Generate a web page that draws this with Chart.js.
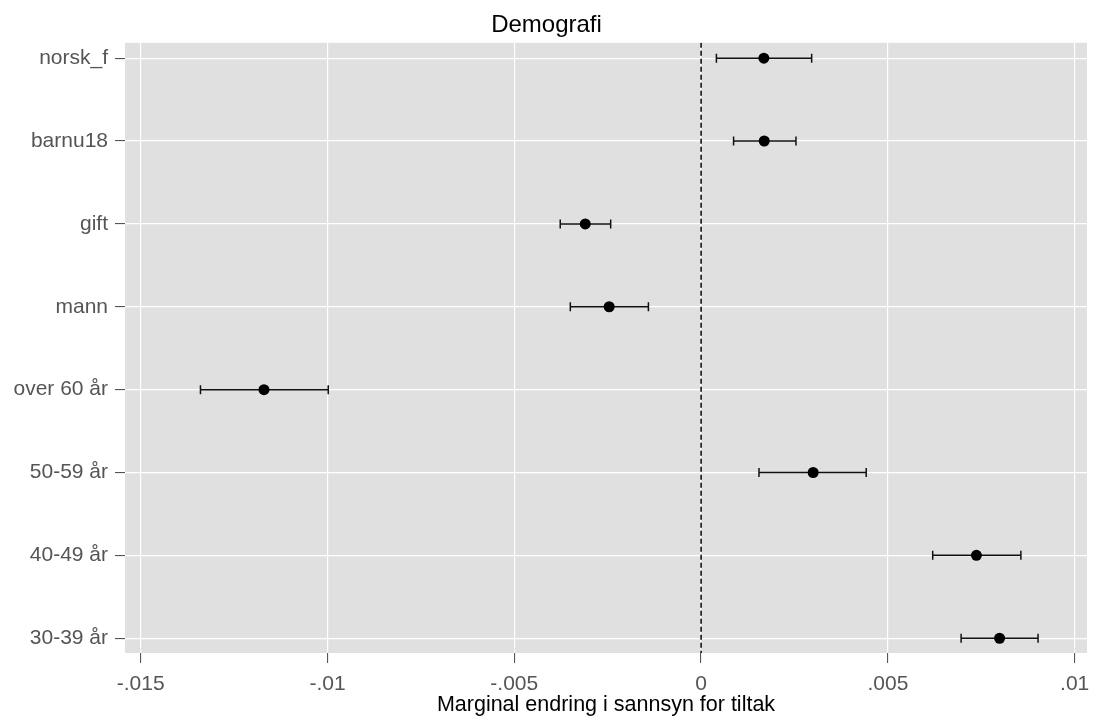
<!DOCTYPE html>
<html>
<head>
<meta charset="utf-8">
<script src="https://cdn.jsdelivr.net/npm/chart.js@4/dist/chart.umd.min.js"></script>
<style>
  html, body { margin: 0; padding: 0; background: #fff; }
  #wrap { width: 1093px; height: 718px; }
</style>
</head>
<body>
<div id="wrap"><canvas id="demoChart" width="1093" height="718"></canvas></div>
<script>
// ── Data ──────────────────────────────────────────────────
const categories  = ['norsk_f', 'barnu18', 'gift', 'mann', 'over 60 år', '50-59 år', '40-49 år', '30-39 år'];
const estimates   = [0.00168, 0.00169, -0.00310, -0.00246, -0.01170, 0.00300, 0.00737, 0.00799];
const lowerCI     = [0.00041, 0.00087, -0.00377, -0.00350, -0.01340, 0.00155, 0.00620, 0.00696];
const upperCI     = [0.00296, 0.00254, -0.00242, -0.00141, -0.00998, 0.00442, 0.00856, 0.00902];
const xTicks      = [-0.015, -0.01, -0.005, 0, 0.005, 0.01];
const xTickLabels = ['-.015', '-.01', '-.005', '0', '.005', '.01'];

const FONT  = "'Liberation Sans', Arial, sans-serif";
const PANEL = '#E0E0E0';

// grey panel behind the grid
const panelBg = {
  id: 'panelBg',
  beforeDraw(chart) {
    const a = chart.chartArea, c = chart.ctx;
    c.save();
    c.fillStyle = PANEL;
    c.fillRect(a.left, a.top, a.right - a.left, a.bottom - a.top);
    c.restore();
  }
};

// ── Datasets ───────────────────────────────────────────────
const pointSet = {
  data: estimates.map((v, i) => ({ x: v, y: i })),
  pointRadius: 5.5,
  pointBackgroundColor: '#000',
  pointBorderColor: '#000',
  pointBorderWidth: 0,
  showLine: false
};

const barSets = categories.map((_, i) => ({
  data: [{ x: lowerCI[i], y: i }, { x: upperCI[i], y: i }],
  showLine: true,
  borderColor: '#111',
  borderWidth: 1.5,
  pointStyle: 'line',
  rotation: 90,
  pointRadius: 4.5,
  pointBorderColor: '#111',
  pointBorderWidth: 1.5
}));

const zeroLine = {
  data: [{ x: 0, y: -0.185 }, { x: 0, y: 7.178 }],
  showLine: true,
  borderColor: '#000',
  borderWidth: 1.5,
  borderDash: [5, 3],
  pointRadius: 0
};

const ctx = document.getElementById('demoChart').getContext('2d');
new Chart(ctx, {
  type: 'scatter',
  data: { datasets: [pointSet, ...barSets, zeroLine] },
  plugins: [panelBg],
  options: {
    responsive: false,
    animation: false,
    devicePixelRatio: 1,
    layout: { padding: 0 },
    plugins: {
      legend: { display: false },
      tooltip: { enabled: false },
      title: {
        display: true,
        text: 'Demografi',
        color: '#000',
        font: { family: FONT, size: 24, weight: 'normal' },
        padding: { top: 11, bottom: 3 }
      }
    },
    scales: {
      x: {
        type: 'linear',
        min: -0.01542,
        max: 0.01033,
        afterBuildTicks: s => { s.ticks = xTicks.map(v => ({ value: v })); },
        afterFit: s => { s.height = 65; s.paddingLeft = 0; s.paddingRight = 0; },
        border: { display: false },
        grid: { color: '#fff', lineWidth: 1.2, tickColor: '#444', tickLength: 10, tickWidth: 1 },
        ticks: {
          padding: 9,
          color: '#555',
          font: { family: FONT, size: 21 },
          callback: v => xTickLabels[xTicks.indexOf(v)]
        },
        title: {
          display: true,
          text: 'Marginal endring i sannsyn for tiltak',
          color: '#000',
          font: { family: FONT, size: 21.5 },
          padding: { top: 0, bottom: 0 }
        }
      },
      y: {
        type: 'linear',
        reverse: true,
        min: -0.185,
        max: 7.178,
        afterBuildTicks: s => { s.ticks = categories.map((_, i) => ({ value: i })); },
        afterFit: s => { s.width = 125; },
        border: { display: false },
        grid: { color: '#fff', lineWidth: 1.2, tickColor: '#444', tickLength: 10, tickWidth: 1 },
        ticks: {
          padding: 7,
          color: '#555',
          font: { family: FONT, size: 21 },
          callback: v => categories[v]
        }
      }
    }
  }
});
</script>
</body>
</html>
